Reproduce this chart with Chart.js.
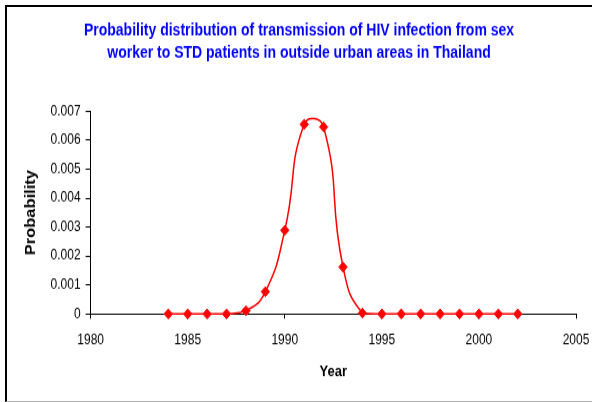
<!DOCTYPE html>
<html>
<head>
<meta charset="utf-8">
<script src="https://cdn.jsdelivr.net/npm/chart.js@4.4.1/dist/chart.umd.min.js"></script>
<style>
  html, body { margin: 0; padding: 0; background: #fff; overflow: hidden; width: 592px; height: 402px; }
  #c { position: absolute; left: 0; top: 0; display: block; }
  #frame { position: absolute; left: 5px; top: 5px; width: 620px; height: 394px;
           border-left: 2px solid #000; border-top: 2px solid #000; border-bottom: 1px solid #b0b0b0; pointer-events: none; }
</style>
</head>
<body>
<canvas id="c" width="592" height="341" style="width:592px;height:402px;"></canvas>
<div id="frame"></div>
<script>
const years = [1984, 1985, 1986, 1987, 1988, 1989, 1990, 1991, 1992, 1993, 1994, 1995, 1996, 1997, 1998, 1999, 2000, 2001, 2002];
const probability = [0, 0, 0, 0, 0.00011, 0.00077, 0.00289, 0.00655, 0.00646, 0.00162, 0.00003, 0, 0, 0, 0, 0, 0, 0, 0];
const titleLines = ['Probability distribution of transmission of HIV infection from sex', 'worker to STD patients in outside urban areas in Thailand'];
const xTitle = 'Year';
const yTitle = 'Probability';
const xTicks = [1980, 1985, 1990, 1995, 2000, 2005];
const yTicks = [0, 0.001, 0.002, 0.003, 0.004, 0.005, 0.006, 0.007];

const FONT = "'Liberation Sans', Arial, sans-serif";
const points = years.map((y, i) => ({ x: y, y: probability[i] }));

new Chart(document.getElementById('c'), {
  type: 'line',
  data: {
    datasets: [{
      data: points,
      borderColor: '#ff0000',
      backgroundColor: '#ff0000',
      borderWidth: 1.5,
      tension: 0.5,
      pointStyle: 'rectRot',
      pointRadius: 4.2,
      pointBorderWidth: 1,
      pointBorderColor: '#ff0000',
      pointBackgroundColor: '#ff0000',
      fill: false,
      clip: false
    }]
  },
  options: {
    responsive: false,
    devicePixelRatio: 1,
    animation: false,
    layout: { padding: { left: 22, right: 16, top: 0, bottom: 16.9 } },
    plugins: {
      legend: { display: false },
      tooltip: { enabled: false },
      title: {
        display: true,
        text: titleLines,
        color: '#0000ff',
        font: { family: FONT, size: 14, weight: 'bold', lineHeight: 1.35 },
        padding: { top: 16.8, bottom: 39.8 }
      }
    },
    scales: {
      x: {
        type: 'linear',
        min: xTicks[0],
        max: xTicks[xTicks.length - 1],
        afterBuildTicks: (s) => { s.ticks = xTicks.map(v => ({ value: v })); },
        ticks: { color: '#000', font: { family: FONT, size: 12, lineHeight: 2.867 }, padding: 1, maxRotation: 0,
                 callback: (v) => String(v) },
        grid: { display: true, drawOnChartArea: false, drawTicks: true, tickLength: 4, color: '#000', tickColor: '#000' },
        border: { display: true, color: '#000', width: 1 },
        title: { display: true, text: xTitle, color: '#000', font: { family: FONT, size: 13, weight: 'bold', lineHeight: 1.338 },
                 padding: { top: 0, bottom: 0 } }
      },
      y: {
        type: 'linear',
        min: yTicks[0],
        max: yTicks[yTicks.length - 1],
        afterBuildTicks: (s) => { s.ticks = yTicks.map(v => ({ value: v })); },
        ticks: { color: '#000', font: { family: FONT, size: 12 }, padding: 5,
                 callback: (v) => v === 0 ? '0' : Number(v).toFixed(3) },
        grid: { display: true, drawOnChartArea: false, drawTicks: true, tickLength: 5, color: '#000', tickColor: '#000' },
        border: { display: true, color: '#000', width: 1 },
        title: { display: true, text: yTitle, color: '#000', font: { family: FONT, size: 14, weight: 'bold', lineHeight: 1.2 },
                 padding: { top: 0.6, bottom: 6.2 } }
      }
    }
  }
});
</script>
</body>
</html>
